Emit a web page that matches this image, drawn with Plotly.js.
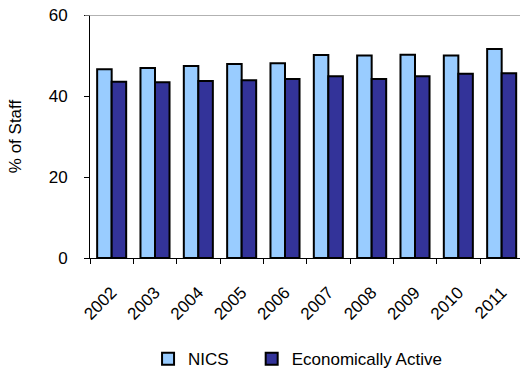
<!DOCTYPE html>
<html>
<head>
<meta charset="utf-8">
<script src="https://cdn.plot.ly/plotly-3.0.1.min.js"></script>
<style>
  html, body { margin: 0; padding: 0; background: #fff; }
  #chart { width: 520px; height: 371px; }
</style>
</head>
<body>
<div id="chart"></div>
<script>
// Share of staff by year: NICS vs economically active population
const years = ['2002', '2003', '2004', '2005', '2006', '2007', '2008', '2009', '2010', '2011'];
const nics = [46.6, 46.9, 47.4, 47.9, 48.1, 50.1, 50.0, 50.2, 50.0, 51.6];
const economicallyActive = [43.5, 43.4, 43.7, 43.9, 44.2, 44.9, 44.2, 44.9, 45.5, 45.6];
const yTicks = [0, 20, 40, 60];

const font = 'Liberation Sans, Arial, sans-serif';

const traces = [
  {
    type: 'bar', name: 'NICS', x: years, y: nics, legend: 'legend',
    marker: { color: '#99CCFF', line: { color: '#000000', width: 2 } }
  },
  {
    type: 'bar', name: 'Economically Active', x: years, y: economicallyActive, legend: 'legend2',
    marker: { color: '#333399', line: { color: '#000000', width: 2 } }
  }
];

// Legends sit in container coordinates so they don't resize the plot area
const legendBase = {
  orientation: 'h', xanchor: 'left', yref: 'container', y: 0.032, yanchor: 'middle',
  font: { family: font, size: 17 }, bgcolor: 'rgba(0,0,0,0)', borderwidth: 0
};

const layout = {
  width: 520, height: 371,
  margin: { l: 90, r: 0, t: 15, b: 113 },
  paper_bgcolor: '#ffffff', plot_bgcolor: '#ffffff',
  barmode: 'group', bargap: 0.33, bargroupgap: 0,
  font: { family: font, color: '#000000', size: 16 },
  xaxis: {
    type: 'category', automargin: false,
    range: [-0.5, 9.423],
    showline: true, linecolor: '#000000', linewidth: 1,
    ticks: 'outside', tickson: 'boundaries', ticklen: 5, tickcolor: '#000000',
    tickangle: -45, ticklabelstandoff: 17, tickfont: { family: font, size: 17 },
    showgrid: false, zeroline: false
  },
  yaxis: {
    automargin: false,
    range: [0, 60], tickvals: yTicks,
    showline: true, linecolor: '#000000', linewidth: 1,
    ticks: 'outside', ticklen: 5, tickcolor: '#000000',
    ticklabelstandoff: 13,
    tickfont: { family: font, size: 17 },
    showgrid: false, zeroline: false,
    title: { text: '% of Staff', font: { family: font, size: 17 }, standoff: 22 }
  },
  shapes: [
    { type: 'line', xref: 'paper', yref: 'y', x0: -0.012, x1: 1, y0: 60, y1: 60,
      line: { color: '#999999', width: 1.5 } }
  ],
  legend: Object.assign({ x: 0.135 }, legendBase),
  legend2: Object.assign({ x: 0.376 }, legendBase),
  showlegend: true
};

Plotly.newPlot('chart', traces, layout, { staticPlot: true, displayModeBar: false });
</script>
</body>
</html>
